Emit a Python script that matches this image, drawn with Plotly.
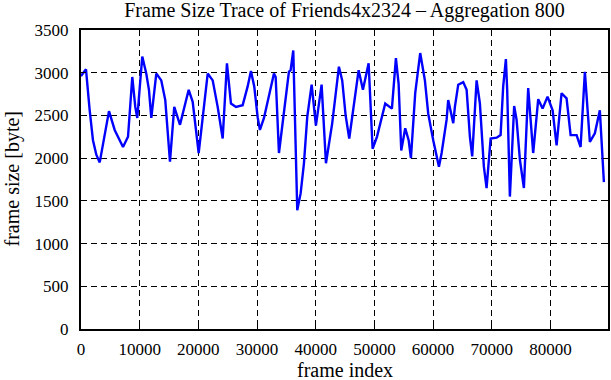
import plotly.graph_objects as go

frame_index = [0, 850, 1480, 2040, 2610, 3190, 4770, 5740, 7160, 8010,
               8740, 9250, 9590, 10440, 11120, 11580, 11980, 12830, 13680, 14360,
               15160, 15890, 16870, 18350, 19030, 20050, 21590, 22440, 23290, 24140,
               24870, 25550, 26410, 27550, 28400, 28960, 29520, 30100, 30490, 31180,
               32880, 33170, 33730, 35430, 35720, 36170, 36850, 37430, 37990, 38550,
               39300, 40030, 41000, 41740, 42810, 43950, 44510, 45090, 45710, 47310,
               48040, 48430, 49010, 49690, 50430, 51840, 52690, 52980, 53660, 54120,
               54570, 55250, 55830, 56220, 56950, 57800, 58600, 59170, 60020, 60990,
               61450, 62300, 62570, 63430, 63710, 64280, 65130, 65710, 66270, 66660,
               67410, 67970, 68650, 69110, 69800, 70820, 71500, 71940, 72400, 72620,
               73080, 73810, 74220, 74790, 75470, 76200, 77050, 77910, 78650, 79500,
               80360, 81040, 81890, 82740, 83430, 84450, 85130, 85860, 86710, 87560,
               88410, 88710, 89100]

frame_size = [2960, 3040, 2560, 2210, 2040, 1950, 2550, 2330, 2130, 2250,
              2950, 2600, 2470, 3190, 2990, 2800, 2470, 2990, 2910, 2680,
              1960, 2600, 2390, 2800, 2660, 2060, 2990, 2910, 2600, 2230,
              3110, 2640, 2600, 2620, 2840, 3020, 2840, 2480, 2330, 2470,
              2990, 2950, 2060, 3010, 3030, 3260, 1390, 1590, 1940, 2480,
              2860, 2380, 2860, 1940, 2410, 3070, 2910, 2500, 2230, 3030,
              2800, 2910, 3110, 2110, 2250, 2640, 2600, 2580, 3170, 2870,
              2090, 2350, 2210, 2000, 2760, 3230, 2910, 2520, 2210, 1900,
              2060, 2450, 2680, 2410, 2600, 2860, 2890, 2800, 2250, 2020,
              2910, 2640, 1900, 1650, 2230, 2240, 2270, 2840, 3160, 2800,
              1550, 2610, 2450, 1980, 1650, 2820, 2060, 2690, 2580, 2720,
              2560, 2150, 2760, 2700, 2270, 2270, 2130, 3010, 2190, 2290,
              2560, 2150, 1720]

x_ticks = [0, 10000, 20000, 30000, 40000, 50000, 60000, 70000, 80000]
y_ticks = [0, 500, 1000, 1500, 2000, 2500, 3000, 3500]

FONT = "Liberation Serif"

fig = go.Figure()
fig.add_trace(go.Scatter(x=frame_index, y=frame_size, mode="lines",
                         line=dict(color="#0000ff", width=2.4),
                         showlegend=False, hoverinfo="skip"))

axis_common = dict(
    showline=True, linecolor="black", linewidth=2, mirror="ticks",
    ticks="inside", ticklen=5, tickwidth=1.2, tickcolor="black",
    showgrid=True, gridcolor="black", gridwidth=1, griddash="6px,4px",
    zeroline=False, automargin=False,
    tickfont=dict(family=FONT, size=17, color="black"),
)

fig.update_layout(
    width=611, height=380,
    margin=dict(l=81, r=3, t=30, b=51),
    paper_bgcolor="white", plot_bgcolor="white",
    title=dict(text="Frame Size Trace of Friends4x2324 \u2013 Aggregation 800",
               x=0.5, xref="paper", xanchor="center",
               y=1 - 10 / 380, yref="container", yanchor="middle",
               font=dict(family=FONT, size=20, color="black")),
    xaxis=dict(range=[0, 89800], tickvals=x_ticks,
               ticktext=[str(v) for v in x_ticks],
               ticklabelstandoff=4,
               **axis_common),
    yaxis=dict(range=[0, 3500], tickvals=y_ticks,
               ticktext=[str(v) for v in y_ticks],
               ticklabelstandoff=7,
               **axis_common),
    annotations=[
        dict(text="frame index", xref="paper", yref="paper",
             x=0.5, y=(329 - 370) / 299, xanchor="center", yanchor="middle",
             showarrow=False, font=dict(family=FONT, size=20, color="black")),
        dict(text="frame size [byte]", xref="paper", yref="paper",
             x=(12 - 81) / 527, y=0.5, xanchor="center", yanchor="middle",
             textangle=-90, showarrow=False,
             font=dict(family=FONT, size=20, color="black")),
    ],
)

fig.write_html("out.html",
               config={"displayModeBar": False},
               post_script="document.body.style.margin='0';"
                           "document.body.style.overflow='hidden';")
